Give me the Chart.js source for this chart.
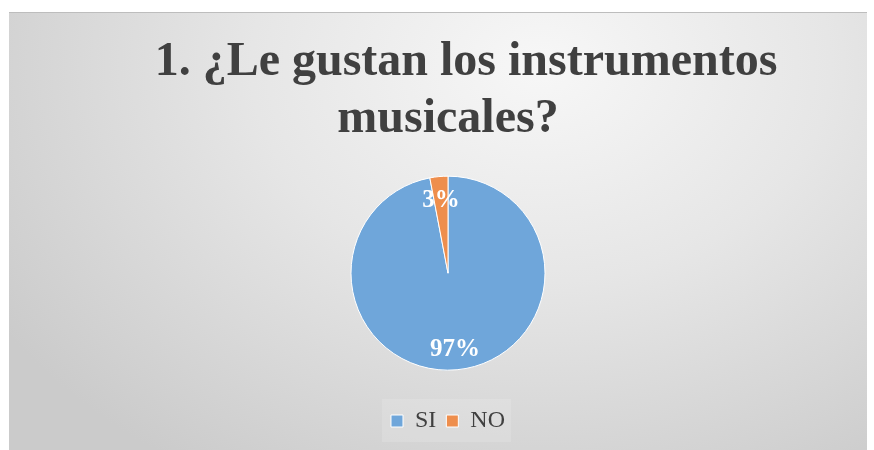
<!DOCTYPE html>
<html>
<head>
<meta charset="utf-8">
<script src="https://cdn.jsdelivr.net/npm/chart.js@4.4.0/dist/chart.umd.min.js"></script>
<style>
    body { margin: 0; background: #ffffff; }
    #frame {
        position: absolute;
        left: 9px;
        top: 12px;
        width: 858px;
        height: 438px;
        border-top: 1px solid #bdbdbd;
        box-sizing: border-box;
        background: radial-gradient(ellipse 75% 110% at 62% 12%, #f7f7f7 0%, #e6e6e6 45%, #cbcbcb 100%);
    }
    #chart { display: block; }
</style>
</head>
<body>
<div id="frame">
    <canvas id="chart" width="858" height="437"></canvas>
</div>
<script>
const categories = ["SI", "NO"];
const values = [97, 3];
const sliceColors = ["#6FA6DA", "#EE8E4D"];
// the first line sits a little right of centre in the original, hence the leading spaces
const titleLines = ["\u00a0\u00a0\u00a01. ¿Le gustan los instrumentos", "musicales?"];

const serif = "'Liberation Serif', 'Times New Roman', serif";

// percentages written on the slices, Excel style (on the mid angle, near the rim)
const sliceLabels = {
    id: "sliceLabels",
    afterDatasetsDraw(chart) {
        let ctx = chart.ctx;
        let total = values.reduce((a, b) => a + b, 0);
        chart.getDatasetMeta(0).data.forEach((arc, i) => {
            let p = arc.getProps(["x", "y", "startAngle", "endAngle", "outerRadius"], true);
            let mid = (p.startAngle + p.endAngle) / 2;
            let r = p.outerRadius * 0.77;
            let x = p.x + Math.cos(mid) * r;
            let y = p.y + Math.sin(mid) * r;
            ctx.save();
            ctx.font = "bold 25px " + serif;
            ctx.fillStyle = "#ffffff";
            ctx.textAlign = "center";
            ctx.textBaseline = "middle";
            ctx.fillText(Math.round(values[i] / total * 100) + "%", x, y + 2);
            ctx.restore();
        });
    }
};

// light box behind the legend
const legendBox = {
    id: "legendBox",
    beforeDraw(chart) {
        let lg = chart.legend;
        if (!lg || !lg.legendHitBoxes.length) return;
        let boxes = lg.legendHitBoxes;
        let left = boxes[0].left - 9;
        let last = boxes[boxes.length - 1];
        let right = last.left + last.width + 6;
        let ctx = chart.ctx;
        ctx.save();
        ctx.fillStyle = "rgba(255,255,255,0.14)";
        ctx.fillRect(left, lg.top, right - left, lg.height - 1);
        ctx.restore();
    }
};

new Chart(document.getElementById("chart"), {
    type: "pie",
    data: {
        labels: categories,
        datasets: [{
            data: values,
            backgroundColor: sliceColors,
            borderColor: "#ffffff",
            borderWidth: 1
        }]
    },
    options: {
        responsive: false,
        animation: false,
        radius: 97,
        layout: { padding: { left: 20, right: 0, top: 0, bottom: 7 } },
        plugins: {
            title: {
                display: true,
                text: titleLines,
                color: "#404040",
                font: { family: serif, size: 48, weight: "bold", lineHeight: 1.17 },
                padding: { top: 22, bottom: 0 }
            },
            legend: {
                position: "bottom",
                labels: {
                    color: "#404040",
                    font: { family: serif, size: 24 },
                    boxWidth: 12,
                    boxHeight: 12,
                    padding: 10
                }
            },
            tooltip: { enabled: false }
        }
    },
    plugins: [legendBox, sliceLabels]
});
</script>
</body>
</html>
